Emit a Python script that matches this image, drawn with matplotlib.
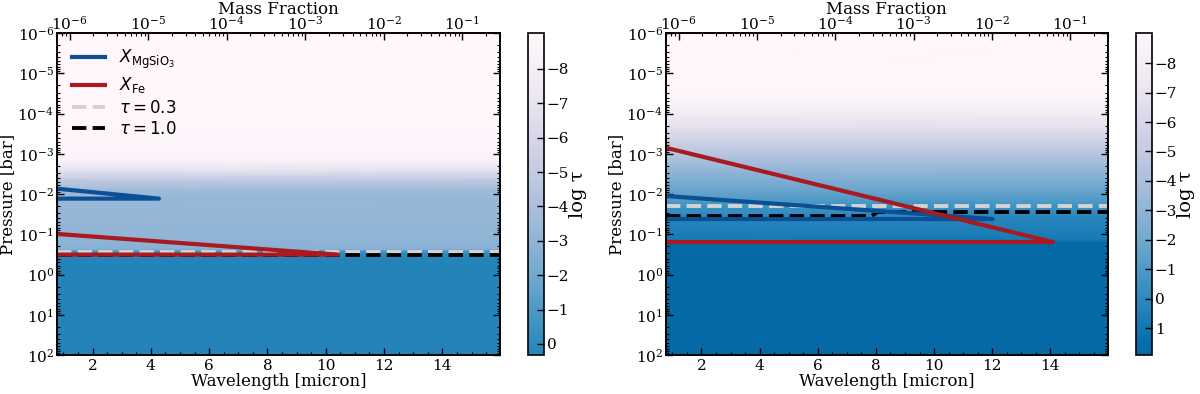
import numpy as np
import matplotlib
matplotlib.use("Agg")
import matplotlib.pyplot as plt
from matplotlib.colors import Normalize
from matplotlib.ticker import LogLocator, MultipleLocator, NullFormatter

plt.rcParams.update({
    "font.family": "serif",
    "font.serif": ["DejaVu Serif"],
    "font.size": 11,
    "xtick.direction": "in",
    "ytick.direction": "in",
    "axes.linewidth": 1.2,
})

# ---- data ------------------------------------------------------------------
wl_range = [0.78, 15.97]            # wavelength [micron], image columns
p_range = [1e-6, 1e2]               # pressure [bar]
mf_range = [6.9e-7, 0.3]            # mass fraction axis

# log tau profile (nearly wavelength independent) per panel
p_left = [1e-6, 1e-4, 1.4e-3, 2.5e-3, 4.4e-3, 7.9e-3, 1.3e-2, 0.1, 0.24, 0.265, 0.3, 0.33, 0.4, 100]
logtau_left = [-9.04, -9.0, -8.6, -7.0, -5.0, -3.6, -3.3, -3.1, -2.8, -0.8, -0.3, 0.05, 0.3, 0.32]

p_right = [1e-6, 3e-5, 1e-4, 2.5e-4, 5e-4, 1e-3, 2.5e-3, 5e-3, 1e-2, 2e-2, 3.5e-2, 5e-2, 0.1, 0.14, 0.16, 100]
logtau_right = [-9.02, -8.9, -7.8, -6.5, -5.5, -4.5, -3.2, -2.3, -1.5, -0.52, 0.0, 0.35, 0.6, 0.9, 1.91, 1.91]

# condensate mass-fraction profiles (mass fraction, pressure)
x_mgsio3_left = [1e-7, 1.37e-5, 1e-10]
p_mgsio3_left = [5.1e-3, 1.3e-2, 1.3e-2]
x_fe_left = [1e-7, 2.6e-3, 1e-10]
p_fe_left = [0.0743, 0.32, 0.32]

x_mgsio3_right = [1e-7, 0.0102, 1e-10]
p_mgsio3_right = [8.6e-3, 0.0418, 0.0418]
x_fe_right = [1e-7, 0.060, 1e-10]
p_fe_right = [2.84e-4, 0.156, 0.156]

# tau = 0.3 / tau = 1 photosphere pressures vs wavelength
wl_tau03_left = [0.78, 15.97]
p_tau03_left = [0.276, 0.276]
wl_tau1_left = [0.78, 15.97]
p_tau1_left = [0.328, 0.328]

wl_tau03_right = [0.78, 15.97]
p_tau03_right = [0.0199, 0.0199]
wl_tau1_right = [0.78, 7.85, 8.05, 15.97]
p_tau1_right = [0.0352, 0.0352, 0.028, 0.028]

cbar_ticks_left = list(range(-8, 1))
cbar_ticks_right = list(range(-8, 2))

C_BLUE = "#0c4f95"
C_RED = "#a81a1f"

fig = plt.figure(figsize=(12, 3.94), dpi=100)
norm = Normalize(vmin=-9.04, vmax=4.9)
cmap = plt.get_cmap("PuBu")

panels = [
    dict(ax=[0.0475, 0.099, 0.369, 0.817], cax=[0.44, 0.099, 0.0133, 0.817],
         p=p_left, lt=logtau_left, xm=x_mgsio3_left, pm=p_mgsio3_left,
         xf=x_fe_left, pf=p_fe_left, w03=wl_tau03_left, p03=p_tau03_left,
         w1=wl_tau1_left, p1=p_tau1_left, ticks=cbar_ticks_left, legend=True),
    dict(ax=[0.555, 0.099, 0.368, 0.817], cax=[0.9467, 0.099, 0.0133, 0.817],
         p=p_right, lt=logtau_right, xm=x_mgsio3_right, pm=p_mgsio3_right,
         xf=x_fe_right, pf=p_fe_right, w03=wl_tau03_right, p03=p_tau03_right,
         w1=wl_tau1_right, p1=p_tau1_right, ticks=cbar_ticks_right, legend=False),
]

for pan in panels:
    ax = fig.add_axes(pan["ax"])
    W, P = np.meshgrid(wl_range, pan["p"])
    C = np.tile(np.array(pan["lt"])[:, None], (1, len(wl_range)))
    mesh = ax.pcolormesh(W, P, C, shading="gouraud", cmap=cmap, norm=norm, rasterized=True)

    l03, = ax.plot(pan["w03"], pan["p03"], color="lightgray", ls="--", lw=2.8)
    l1, = ax.plot(pan["w1"], pan["p1"], color="black", ls="--", lw=2.8)

    ax.set_yscale("log")
    ax.set_ylim(p_range[1], p_range[0])
    ax.set_xlim(wl_range)
    ax.yaxis.set_major_locator(LogLocator(base=10, numticks=20))
    ax.yaxis.set_minor_locator(LogLocator(base=10, subs=np.arange(2, 10), numticks=20))
    ax.yaxis.set_minor_formatter(NullFormatter())
    ax.xaxis.set_major_locator(MultipleLocator(2))
    ax.xaxis.set_minor_locator(MultipleLocator(0.5))
    ax.tick_params(which="both", direction="in", left=True, right=True, bottom=True, top=False)
    ax.tick_params(which="major", length=5, width=1)
    ax.tick_params(which="minor", length=2.5, width=0.8)
    ax.tick_params(axis="y", pad=2)
    ax.tick_params(axis="x", pad=3)
    ax.set_xlabel("Wavelength [micron]", fontsize=12, labelpad=0)
    ax.set_ylabel("Pressure [bar]", fontsize=12, labelpad=1)

    ax2 = ax.twiny()
    lm, = ax2.plot(pan["xm"], pan["pm"], color=C_BLUE, lw=3)
    lf, = ax2.plot(pan["xf"], pan["pf"], color=C_RED, lw=3)
    ax2.set_xscale("log")
    ax2.set_xlim(mf_range)
    ax2.xaxis.set_major_locator(LogLocator(base=10, numticks=20))
    ax2.xaxis.set_minor_locator(LogLocator(base=10, subs=np.arange(2, 10), numticks=20))
    ax2.xaxis.set_minor_formatter(NullFormatter())
    ax2.tick_params(axis="x", which="both", direction="in", top=True, bottom=False, pad=0.5)
    ax2.tick_params(axis="x", which="major", length=5, width=1)
    ax2.tick_params(axis="x", which="minor", length=2.5, width=0.8)
    ax2.set_xlabel("Mass Fraction", fontsize=12, labelpad=0.5)

    if pan["legend"]:
        ax2.legend([lm, lf, l03, l1],
                   [r"$X_{\rm MgSiO_3}$", r"$X_{\rm Fe}$", r"$\tau = 0.3$", r"$\tau = 1.0$"],
                   loc="upper left", frameon=False, fontsize=12, labelspacing=0.25)

    cax = fig.add_axes(pan["cax"])
    lo, hi = min(pan["lt"]), max(pan["lt"])
    cb = fig.colorbar(mesh, cax=cax, boundaries=np.linspace(lo, hi, 257))
    cb.set_ticks(pan["ticks"])
    cb.ax.set_ylim(hi, lo)
    cb.ax.tick_params(direction="in", length=5, width=1, pad=2)
    cb.outline.set_linewidth(1.2)
    cb.set_label("log τ", fontsize=14, labelpad=0)

fig.savefig("out.png", dpi=100)
